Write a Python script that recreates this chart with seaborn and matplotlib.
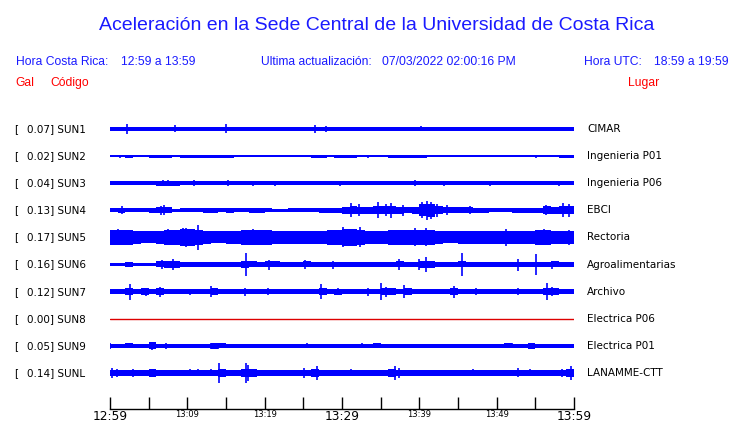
import numpy as np
import pandas as pd
import matplotlib
matplotlib.use("Agg")
import matplotlib.pyplot as plt
import seaborn as sns

# ---------------- data ----------------
STATIONS = ["SUN1", "SUN2", "SUN3", "SUN4", "SUN5", "SUN6", "SUN7", "SUN8", "SUN9", "SUNL"]
PEAK_GAL = ["0.07", "0.02", "0.04", "0.13", "0.17", "0.16", "0.12", "0.00", "0.05", "0.14"]
PLACES = ["CIMAR", "Ingenieria P01", "Ingenieria P06", "EBCI", "Rectoria",
          "Agroalimentarias", "Archivo", "Electrica P06", "Electrica P01", "LANAMME-CTT"]

TICK_MIN = [0, 5, 10, 15, 20, 25, 30, 35, 40, 45, 50, 55, 60]
TICK_LABELS = ["12:59", "", "13:09", "", "13:19", "", "13:29", "", "13:39", "", "13:49", "", "13:59"]
BIG_LABELS = ["12:59", "13:29", "13:59"]

# per-minute envelope (half amplitude, screen px)
SUN1_ENV = [1.4, 1.4, 1.4, 1.4, 1.4, 1.4, 1.4, 1.4, 1.4, 1.4, 1.4, 1.4, 1.4, 1.4, 1.4, 1.4, 1.4, 1.4, 1.4, 1.4,
            1.4, 1.4, 1.4, 1.4, 1.4, 1.4, 1.4, 1.4, 1.4, 1.4, 1.4, 1.4, 1.4, 1.4, 1.4, 1.4, 1.4, 1.4, 1.4, 1.4,
            1.4, 1.4, 1.4, 1.4, 1.4, 1.4, 1.4, 1.4, 1.4, 1.4, 1.4, 1.4, 1.4, 1.4, 1.4, 1.4, 1.4, 1.4, 1.4, 1.4]
SUN2_ENV = [0.8, 1.0, 1.2, 1.1, 0.8, 1.2, 1.2, 1.2, 1.1, 1.2, 1.2, 1.2, 1.2, 1.2, 1.2, 1.2, 1.1, 1.0, 0.9, 0.9,
            0.9, 0.7, 1.0, 0.9, 0.6, 1.1, 1.2, 1.2, 1.0, 1.2, 1.2, 1.2, 1.1, 0.9, 0.9, 1.0, 1.2, 1.2, 1.2, 1.2,
            1.2, 0.9, 0.9, 1.0, 0.8, 1.1, 1.0, 0.8, 0.8, 0.6, 0.8, 1.1, 1.1, 1.1, 1.1, 1.0, 0.9, 1.0, 1.2, 1.2]
SUN3_ENV = [1.6, 1.6, 1.5, 1.6, 1.6, 1.7, 2.0, 2.2, 2.0, 1.7, 1.7, 1.8, 1.7, 1.6, 1.7, 1.7, 1.6, 1.5, 1.6, 1.5,
            1.6, 1.7, 1.5, 1.5, 1.6, 1.6, 1.6, 1.6, 1.6, 1.6, 1.6, 1.5, 1.6, 1.6, 1.5, 1.6, 1.6, 1.8, 1.8, 1.8,
            1.6, 1.6, 1.5, 1.7, 1.6, 1.5, 1.6, 1.5, 1.5, 1.6, 1.6, 1.5, 1.6, 1.5, 1.5, 1.5, 1.6, 1.6, 1.7, 1.7]
SUN4_ENV = [1.5, 2.0, 1.8, 1.8, 1.8, 2.0, 2.5, 2.5, 1.3, 1.5, 1.8, 1.8, 2.3, 2.0, 1.8, 2.0, 1.8, 1.8, 2.3, 2.0,
            1.5, 1.3, 1.3, 1.8, 1.8, 1.8, 1.8, 2.0, 2.0, 2.2, 3.0, 3.5, 3.0, 3.0, 3.5, 3.5, 3.5, 3.0, 2.5, 3.0,
            5.0, 5.5, 3.5, 2.5, 2.5, 2.5, 2.5, 2.0, 2.0, 1.8, 1.8, 1.8, 2.0, 2.0, 2.0, 2.0, 3.5, 3.0, 3.5, 3.5]
SUN5_ENV = [6.5, 6.0, 6.0, 5.5, 5.0, 5.0, 5.5, 6.0, 6.5, 7.0, 7.0, 6.5, 5.5, 5.0, 5.0, 5.5, 5.5, 6.0, 6.0, 6.5,
            6.0, 5.5, 5.5, 5.5, 5.5, 5.5, 5.5, 5.5, 6.0, 6.5, 7.0, 7.0, 6.0, 5.5, 5.5, 5.5, 6.0, 6.0, 6.5, 6.5,
            6.0, 6.0, 5.5, 5.0, 5.0, 5.5, 5.5, 5.5, 5.5, 5.5, 5.5, 5.5, 5.5, 5.5, 5.5, 6.0, 6.0, 5.5, 5.5, 5.5]
SUN6_ENV = [1.6, 1.6, 1.7, 1.6, 1.6, 1.6, 2.5, 2.8, 2.8, 2.0, 1.8, 1.8, 1.7, 1.7, 1.7, 1.8, 1.8, 3.0, 2.5, 1.8,
            2.5, 2.5, 1.7, 1.8, 1.7, 2.5, 2.0, 1.8, 2.3, 2.3, 1.8, 1.8, 1.8, 1.8, 1.8, 1.8, 1.8, 2.5, 2.0, 1.8,
            2.8, 2.8, 1.8, 1.7, 1.8, 2.5, 2.3, 1.8, 1.7, 1.8, 1.7, 1.8, 2.0, 1.8, 1.8, 2.0, 1.7, 2.5, 2.0, 1.7]
SUN7_ENV = [2.2, 2.2, 3.0, 2.3, 2.8, 2.2, 2.8, 2.3, 2.0, 2.0, 2.2, 2.2, 2.3, 2.8, 2.2, 2.0, 2.2, 2.3, 2.2, 2.2,
            2.3, 2.2, 2.2, 2.2, 2.2, 2.2, 2.2, 3.0, 2.2, 2.5, 2.2, 2.2, 2.2, 2.3, 2.0, 3.2, 2.8, 2.2, 2.8, 2.2,
            2.2, 2.2, 2.2, 2.2, 2.8, 2.2, 2.2, 2.3, 2.0, 2.2, 2.2, 2.2, 2.3, 2.2, 2.2, 2.2, 3.2, 2.8, 2.2, 2.3]
SUN8_T = [0, 60]
SUN8_V = [0.0, 0.0]
SUN9_ENV = [1.7, 1.6, 2.2, 1.6, 1.6, 2.8, 1.6, 1.8, 1.6, 1.6, 1.7, 1.6, 1.6, 2.3, 2.2, 1.7, 1.6, 1.6, 1.7, 1.6,
            1.7, 1.6, 1.6, 1.6, 1.7, 1.8, 1.7, 1.7, 1.6, 1.6, 1.6, 1.6, 1.7, 1.6, 2.0, 1.6, 1.6, 1.6, 1.6, 1.6,
            1.7, 1.6, 1.6, 1.6, 1.7, 1.6, 1.6, 1.6, 1.7, 1.6, 1.6, 2.2, 1.8, 1.7, 2.3, 1.6, 1.6, 1.7, 1.6, 1.6]
SUNL_ENV = [2.3, 2.2, 2.2, 2.3, 2.2, 3.0, 2.8, 2.2, 2.2, 2.2, 2.3, 2.3, 2.2, 2.8, 3.5, 2.2, 2.2, 3.5, 3.0, 2.2,
            2.2, 2.2, 2.2, 2.2, 2.2, 2.8, 3.2, 2.8, 2.8, 2.8, 2.3, 2.5, 2.2, 2.2, 2.2, 2.2, 3.0, 2.8, 2.2, 2.2,
            2.2, 2.2, 2.2, 2.2, 2.2, 2.2, 2.5, 2.2, 2.2, 2.2, 2.2, 2.2, 2.8, 2.5, 2.2, 2.2, 2.2, 2.2, 2.8, 3.0]

# spikes: minute after 12:59, half amplitude (px)
SUN1_SPK_T = [2.24, 4.8, 5.7, 6.9, 8.4, 10.7, 11.05, 15.0, 19.1, 23.8, 26.5, 27.9, 30.1, 31.3, 31.9, 33.1,
              34.2, 37.3, 38.3, 40.2, 41.8, 43.8, 46.7, 49.2, 52.4, 54.2, 55.7]
SUN1_SPK_A = [5.0, 2.0, 1.8, 1.8, 3.5, 2.0, 2.2, 4.5, 2.2, 1.7, 3.8, 3.0, 1.8, 2.2, 2.2, 1.8,
              1.8, 2.2, 2.2, 2.5, 2.0, 2.2, 1.7, 2.2, 1.8, 2.2, 2.2]
SUN2_SPK_T = [1.3, 12.3, 19.6, 33.3, 42.4, 48.4, 55.1]
SUN2_SPK_A = [1.5, 1.5, 1.4, 1.5, 1.4, 1.4, 1.5]
SUN3_SPK_T = [6.9, 7.5, 10.8, 15.3, 18.5, 21.3, 29.7, 39.4, 43.2, 49.2, 58.1]
SUN3_SPK_A = [3.3, 3.0, 2.8, 2.8, 2.5, 2.5, 2.5, 2.8, 2.5, 2.5, 2.5]
SUN4_SPK_T = [1.6, 6.6, 7.0, 31.1, 32.2, 34.6, 35.7, 36.4, 37.9, 40.3, 41.0, 41.5, 42.3, 43.6, 46.5, 56.4, 58.6, 59.3]
SUN4_SPK_A = [4.0, 4.5, 5.0, 7.0, 6.0, 8.0, 6.0, 7.5, 5.5, 8.0, 9.5, 8.5, 6.5, 5.0, 4.0, 5.0, 7.0, 6.5]
SUN5_SPK_T = [1.0, 1.9, 7.5, 9.5, 9.8, 11.4, 18.5, 30.1, 32.3, 39.4, 40.9, 51.2, 56.1, 59.4]
SUN5_SPK_A = [8.0, 7.5, 8.0, 9.0, 9.5, 12.5, 8.0, 10.0, 10.0, 9.0, 9.0, 8.5, 8.0, 7.5]
SUN6_SPK_T = [6.7, 8.2, 17.6, 20.6, 25.2, 28.8, 37.4, 40.0, 40.9, 45.5, 52.7, 55.1, 57.2]
SUN6_SPK_A = [4.5, 5.8, 11.3, 5.0, 4.7, 4.0, 5.3, 5.8, 7.5, 11.0, 6.0, 10.0, 4.0]
SUN7_SPK_T = [2.6, 4.7, 6.5, 10.3, 13.1, 17.4, 20.4, 27.3, 29.5, 33.3, 35.0, 35.7, 38.0, 44.5, 47.3, 52.7, 56.5, 57.2]
SUN7_SPK_A = [8.0, 4.0, 5.0, 3.0, 5.5, 4.0, 3.5, 7.8, 3.5, 4.0, 8.8, 5.0, 6.3, 6.0, 3.5, 3.5, 8.3, 4.5]
SUN9_SPK_T = [0.05, 2.5, 5.4, 7.2, 10.2, 13.0, 14.0, 15.1, 18.6, 20.8, 24.6, 25.5, 26.7, 27.7, 30.9, 32.6,
              34.6, 40.9, 44.6, 48.8, 51.4, 52.0, 53.0, 54.3, 57.6]
SUN9_SPK_A = [3.0, 2.5, 4.2, 3.0, 2.3, 2.8, 2.8, 2.3, 2.3, 2.0, 2.3, 2.5, 2.3, 2.3, 2.0, 2.5,
              2.5, 2.3, 2.0, 2.3, 2.5, 2.5, 2.3, 2.8, 2.3]
SUNL_SPK_T = [0.2, 0.9, 3.0, 5.8, 10.3, 11.4, 13.1, 14.1, 17.6, 17.8, 25.1, 26.2, 26.8, 31.2, 36.8, 37.4,
              46.9, 52.7, 54.3, 58.5, 59.6]
SUNL_SPK_A = [5.0, 4.0, 4.0, 4.0, 3.5, 3.5, 3.5, 10.0, 10.0, 8.0, 5.3, 4.0, 7.0, 3.5, 7.0, 5.0,
              3.5, 4.5, 3.5, 4.0, 6.7]

ENVS = [SUN1_ENV, SUN2_ENV, SUN3_ENV, SUN4_ENV, SUN5_ENV, SUN6_ENV, SUN7_ENV, None, SUN9_ENV, SUNL_ENV]
SPK_T = [SUN1_SPK_T, SUN2_SPK_T, SUN3_SPK_T, SUN4_SPK_T, SUN5_SPK_T, SUN6_SPK_T, SUN7_SPK_T, None, SUN9_SPK_T, SUNL_SPK_T]
SPK_A = [SUN1_SPK_A, SUN2_SPK_A, SUN3_SPK_A, SUN4_SPK_A, SUN5_SPK_A, SUN6_SPK_A, SUN7_SPK_A, None, SUN9_SPK_A, SUNL_SPK_A]

# ---------------- style ----------------
sns.set_theme(style="white")
plt.rcParams["font.family"] = ["DejaVu Sans"]

BLUE = "#0000ff"
HEAD_BLUE = "#1a1aff"
RED = "#ff0000"
GAIN = 1.2          # display gain for the band thickness
W, H = 740, 423
ROW = 27.1
ROW0 = 129.0   # px of first row centre
AX_TOP, AX_BOT, AX_L, AX_R = 112, 409, 110, 574

fig = plt.figure(figsize=(W / 100, H / 100), dpi=100)
fig.patch.set_facecolor("white")
ax = fig.add_axes([AX_L / W, (H - AX_BOT) / H, (AX_R - AX_L) / W, (AX_BOT - AX_TOP) / H])
ax.set_facecolor("white")
ax.set_xlim(0, 60)
ax.set_ylim(AX_BOT - ROW0, AX_TOP - ROW0)

edges = np.arange(61)
for i, st in enumerate(STATIONS):
    c = ROW * i
    if ENVS[i] is None:
        df = pd.DataFrame({"t": SUN8_T, "v": np.array(SUN8_V) + c})
        sns.lineplot(data=df, x="t", y="v", color="#dd0000", lw=1.0, ax=ax)
        continue
    env = np.array(ENVS[i] + [ENVS[i][-1]]) * GAIN
    ax.fill_between(edges, c - env, c + env, step="post", color=BLUE, lw=0)
    t = np.array(SPK_T[i]); a = np.array(SPK_A[i])
    ax.vlines(t, c - a, c + a, color=BLUE, lw=1.2)

ax.set_xlabel(""); ax.set_ylabel("")
for s in ["top", "left", "right"]:
    ax.spines[s].set_visible(False)
ax.spines["bottom"].set_color("black")
ax.spines["bottom"].set_linewidth(1.0)
ax.set_yticks([])
ax.set_xticks(TICK_MIN)
ax.set_xticklabels(TICK_LABELS)
ax.tick_params(axis="x", direction="in", length=9, width=1, color="black", pad=1, bottom=True)
for lbl in ax.get_xticklabels():
    lbl.set_fontsize(8.8 if lbl.get_text() in BIG_LABELS else 6)
    lbl.set_color("black")


def ftext(x, y, s, **kw):
    fig.text(x / W, 1 - y / H, s, **kw)


HF = ["Liberation Sans", "DejaVu Sans"]
ftext(377, 30, "Aceleración en la Sede Central de la Universidad de Costa Rica",
      ha="center", va="baseline", fontsize=14, color=HEAD_BLUE, family=HF)
hdr = dict(va="baseline", fontsize=8.7, color=HEAD_BLUE, family=HF)
ftext(15.5, 65, "Hora Costa Rica:", **hdr)
ftext(120.7, 65, "12:59 a 13:59", **hdr)
ftext(260.7, 65, "Ultima actualización:", **hdr)
ftext(382, 65, "07/03/2022 02:00:16 PM", **hdr)
ftext(583.5, 65, "Hora UTC:", **hdr)
ftext(653.7, 65, "18:59 a 19:59", **hdr)
red = dict(va="baseline", fontsize=8.7, color=RED, family=HF)
ftext(15.5, 86, "Gal", **red)
ftext(50.8, 86, "Código", **red)
ftext(628, 86, "Lugar", **red)

for i, st in enumerate(STATIONS):
    y = ROW0 + ROW * i
    ftext(14, y, "[", va="center", fontsize=7.5, color="black")
    ftext(27, y, f"{PEAK_GAL[i]}] {st}", va="center", fontsize=7.5, color="black")
    ftext(587, y, PLACES[i], va="center", fontsize=7.5, color="black")

fig.savefig("out.png", dpi=100, facecolor="white")
